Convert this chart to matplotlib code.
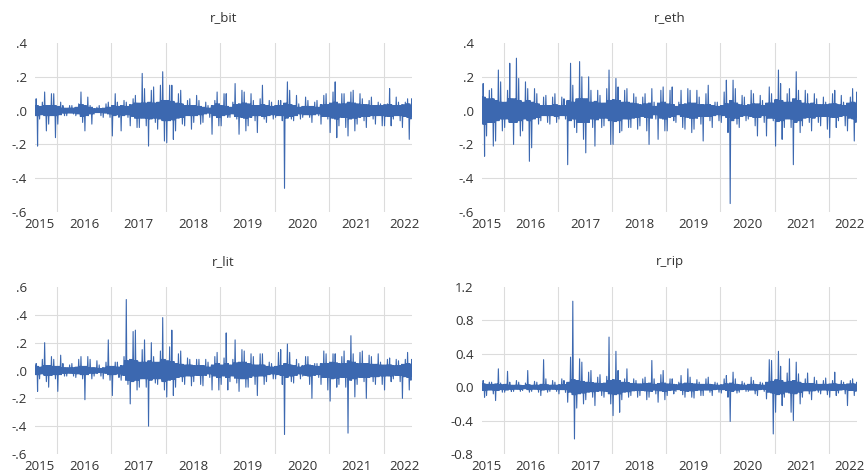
import numpy as np
import pandas as pd
import matplotlib
matplotlib.use("Agg")
import matplotlib.pyplot as plt
import matplotlib.dates as mdates
from matplotlib.ticker import FixedLocator, FuncFormatter

plt.rcParams['font.family'] = ['Open Sans', 'DejaVu Sans']

# sample: daily returns, Aug 2015 - Jul 2022
start = pd.Timestamp('2015-08-07')
end = pd.Timestamp('2022-07-10')
months = pd.period_range('2015-08', '2022-07', freq='M')

# monthly extremes (Aug15-Dec15, then 2016..2021, then Jan22-Jul22)
bit_hi = [.07, .05, .11, .10, .10,
          .05, .03, .03, .03, .04, .11, .08, .03, .02, .03, .04, .05,
          .10, .05, .06, .05, .07, .09, .22, .13, .12, .14, .15, .23,
          .15, .15, .10, .12, .06, .07, .09, .06, .05, .03, .06, .11,
          .10, .10, .05, .16, .12, .11, .10, .06, .07, .15, .06, .05,
          .06, .06, .17, .12, .09, .04, .08, .06, .05, .06, .09, .10,
          .11, .17, .10, .10, .11, .12, .10, .07, .06, .08, .05, .04,
          .04, .13, .08, .05, .05, .07, .07]
bit_lo = [-.21, -.05, -.12, -.08, -.16,
          -.08, -.03, -.03, -.02, -.03, -.07, -.12, -.08, -.02, -.03, -.04, -.04,
          -.15, -.04, -.12, -.04, -.09, -.10, -.10, -.09, -.21, -.07, -.11, -.18,
          -.19, -.17, -.12, -.08, -.09, -.11, -.07, -.08, -.07, -.04, -.14, -.09,
          -.09, -.04, -.04, -.05, -.14, -.12, -.09, -.06, -.13, -.05, -.07, -.05,
          -.04, -.06, -.46, -.05, -.06, -.05, -.04, -.04, -.07, -.03, -.08, -.05,
          -.13, -.16, -.09, -.10, -.15, -.12, -.08, -.06, -.10, -.05, -.08, -.09,
          -.09, -.09, -.05, -.06, -.10, -.17, -.05]

eth_hi = [.16, .12, .13, .24, .17,
          .12, .28, .31, .19, .17, .13, .13, .10, .08, .09, .08, .10,
          .08, .07, .28, .15, .29, .20, .20, .12, .12, .09, .13, .24,
          .19, .14, .12, .13, .10, .08, .08, .10, .13, .05, .12, .14,
          .12, .14, .05, .12, .13, .12, .12, .08, .10, .15, .05, .05,
          .11, .18, .18, .13, .09, .08, .12, .10, .09, .06, .14, .10,
          .24, .16, .10, .13, .23, .12, .12, .10, .10, .07, .08, .05,
          .10, .12, .09, .05, .08, .13, .11]
eth_lo = [-.27, -.15, -.21, -.18, -.12,
          -.10, -.07, -.20, -.15, -.12, -.30, -.22, -.08, -.06, -.07, -.08, -.07,
          -.05, -.05, -.32, -.10, -.13, -.17, -.25, -.10, -.21, -.10, -.09, -.20,
          -.20, -.13, -.12, -.10, -.10, -.11, -.09, -.12, -.20, -.05, -.17, -.12,
          -.12, -.06, -.07, -.10, -.11, -.13, -.11, -.08, -.18, -.06, -.10, -.06,
          -.07, -.13, -.55, -.08, -.10, -.06, -.05, -.09, -.15, -.07, -.15, -.06,
          -.21, -.17, -.10, -.10, -.32, -.13, -.09, -.07, -.12, -.07, -.09, -.11,
          -.16, -.10, -.06, -.09, -.12, -.18, -.07]

lit_hi = [.05, .08, .20, .10, .08,
          .11, .05, .04, .05, .08, .10, .10, .08, .07, .04, .06, .22,
          .06, .06, .10, .51, .28, .29, .15, .22, .20, .10, .14, .38,
          .17, .29, .12, .14, .09, .08, .08, .08, .08, .06, .10, .13,
          .09, .27, .08, .22, .15, .14, .12, .10, .12, .12, .06, .05,
          .13, .15, .19, .13, .08, .05, .10, .10, .05, .05, .14, .12,
          .12, .12, .10, .14, .25, .12, .13, .14, .11, .10, .12, .06,
          .08, .09, .08, .07, .08, .13, .08]
lit_lo = [-.15, -.06, -.08, -.12, -.06,
          -.15, -.04, -.04, -.04, -.05, -.06, -.21, -.06, -.04, -.04, -.06, -.07,
          -.18, -.05, -.07, -.10, -.24, -.14, -.12, -.12, -.40, -.09, -.10, -.14,
          -.19, -.18, -.12, -.08, -.10, -.11, -.08, -.10, -.11, -.05, -.14, -.14,
          -.10, -.14, -.08, -.09, -.15, -.12, -.12, -.10, -.18, -.10, -.08, -.06,
          -.06, -.10, -.46, -.08, -.09, -.06, -.04, -.10, -.20, -.05, -.10, -.14,
          -.22, -.12, -.10, -.12, -.45, -.19, -.10, -.08, -.20, -.08, -.10, -.10,
          -.14, -.08, -.06, -.08, -.20, -.14, -.07]

rip_hi = [.08, .06, .06, .22, .05,
          .19, .06, .08, .06, .05, .20, .07, .06, .33, .10, .08, .06,
          .10, .08, .36, 1.03, .34, .30, .18, .20, .12, .15, .13, .60,
          .43, .20, .10, .22, .10, .08, .10, .12, .32, .10, .15, .20,
          .10, .10, .06, .14, .22, .12, .09, .06, .10, .12, .06, .05,
          .10, .14, .18, .10, .07, .05, .12, .08, .06, .05, .33, .32,
          .43, .25, .17, .34, .30, .16, .10, .17, .12, .08, .08, .11,
          .08, .18, .08, .06, .08, .10, .06]
rip_lo = [-.12, -.10, -.08, -.16, -.06,
          -.06, -.05, -.05, -.05, -.04, -.06, -.05, -.06, -.10, -.06, -.05, -.05,
          -.08, -.06, -.18, -.62, -.25, -.20, -.15, -.12, -.22, -.10, -.12, -.20,
          -.34, -.30, -.15, -.12, -.10, -.12, -.10, -.15, -.12, -.08, -.18, -.15,
          -.10, -.08, -.05, -.09, -.12, -.12, -.13, -.10, -.10, -.06, -.10, -.06,
          -.07, -.12, -.41, -.07, -.06, -.05, -.05, -.08, -.10, -.05, -.14, -.56,
          -.30, -.22, -.12, -.30, -.40, -.20, -.12, -.08, -.15, -.06, -.08, -.09,
          -.12, -.10, -.07, -.08, -.22, -.10, -.05]

# half-width of the dense band in each month
bit_core = [.03, .025, .03, .03, .03,
            .025, .015, .015, .015, .02, .035, .03, .02, .012, .012, .015, .02,
            .03, .025, .03, .025, .035, .045, .045, .045, .05, .045, .05, .06,
            .06, .055, .045, .04, .03, .03, .03, .025, .02, .015, .03, .04,
            .03, .025, .02, .035, .04, .045, .04, .03, .03, .035, .03, .025,
            .03, .03, .045, .035, .03, .02, .025, .025, .025, .02, .035, .035,
            .045, .05, .04, .04, .05, .045, .04, .035, .035, .03, .03, .03,
            .035, .035, .03, .03, .035, .04, .03]
eth_core = [.08, .07, .07, .06, .05,
            .05, .07, .07, .06, .05, .06, .05, .04, .03, .03, .03, .035,
            .03, .03, .06, .05, .07, .07, .07, .05, .055, .045, .045, .06,
            .065, .06, .05, .05, .045, .04, .035, .04, .045, .025, .045, .05,
            .04, .035, .025, .035, .04, .045, .045, .035, .035, .035, .03, .025,
            .03, .04, .06, .045, .035, .03, .035, .04, .04, .03, .045, .045,
            .065, .06, .05, .05, .07, .06, .045, .04, .045, .035, .035, .035,
            .04, .04, .035, .03, .045, .05, .04]
lit_core = [.03, .025, .035, .035, .03,
            .03, .02, .02, .02, .025, .03, .03, .02, .02, .015, .02, .03,
            .03, .025, .035, .07, .08, .07, .06, .06, .07, .06, .06, .08,
            .07, .065, .05, .045, .04, .04, .035, .035, .035, .025, .04, .05,
            .04, .05, .04, .055, .06, .06, .05, .04, .04, .04, .03, .025,
            .03, .035, .05, .04, .035, .025, .035, .04, .035, .03, .05, .05,
            .06, .055, .05, .05, .07, .06, .05, .05, .05, .045, .045, .04,
            .04, .04, .035, .035, .045, .05, .04]
rip_core = [.04, .035, .035, .04, .03,
            .035, .025, .025, .025, .02, .03, .025, .025, .035, .03, .025, .025,
            .03, .03, .06, .09, .08, .07, .06, .055, .05, .045, .05, .08,
            .09, .08, .06, .055, .045, .04, .04, .045, .05, .035, .045, .05,
            .04, .035, .03, .04, .05, .045, .04, .035, .035, .035, .03, .025,
            .03, .04, .05, .035, .03, .025, .035, .035, .03, .025, .06, .07,
            .09, .08, .06, .07, .08, .06, .045, .045, .045, .035, .035, .035,
            .04, .04, .035, .03, .04, .04, .035]


def build_path(hi, lo, core):
    t, v = [], []
    for i, p in enumerate(months):
        a = mdates.date2num(max(p.start_time, start))
        b = mdates.date2num(min(p.end_time, end))
        c = core[i]
        if i % 2 == 0:
            vals = [c, -c, hi[i], -c, c, lo[i], c, -c]
        else:
            vals = [c, lo[i], c, -c, c, -c, hi[i], -c]
        n = len(vals)
        for k, val in enumerate(vals):
            t.append(a + (k + 0.5) / n * (b - a))
            v.append(val)
    return np.array(t), np.array(v)


def dot_fmt(x, pos):
    s = f"{x:.1f}"
    return s.replace("0.", ".")


panels = [
    ("r_bit", bit_hi, bit_lo, bit_core, (-0.6, 0.4), np.arange(-0.6, 0.41, 0.2), dot_fmt,
     [35/865, 1-212/475, 377/865, 169/475]),
    ("r_eth", eth_hi, eth_lo, eth_core, (-0.6, 0.4), np.arange(-0.6, 0.41, 0.2), dot_fmt,
     [482/865, 1-212/475, 375/865, 169/475]),
    ("r_lit", lit_hi, lit_lo, lit_core, (-0.6, 0.6), np.arange(-0.6, 0.61, 0.2), dot_fmt,
     [35/865, 1-454/475, 377/865, 167/475]),
    ("r_rip", rip_hi, rip_lo, rip_core, (-0.8, 1.2), np.arange(-0.8, 1.21, 0.4),
     lambda x, pos: f"{x:.1f}", [482/865, 1-454/475, 375/865, 167/475]),
]

year_lines = [pd.Timestamp(f"{y}-01-01") for y in range(2016, 2023)]
label_pos = [pd.Timestamp('2015-09-05')] + [pd.Timestamp(f"{y}-07-02") for y in range(2016, 2022)] \
    + [pd.Timestamp('2022-05-22')]
year_labels = [str(y) for y in range(2015, 2023)]

fig = plt.figure(figsize=(8.65, 4.75), dpi=100)
for title, hi, lo, core, ylim, yticks, fmt, rect in panels:
    ax = fig.add_axes(rect)
    t, v = build_path(hi, lo, core)
    ax.plot(t, v, color='#3c68b0', lw=0.8)
    ax.set_xlim(mdates.date2num(start), mdates.date2num(end))
    ax.set_ylim(*ylim)
    ax.set_yticks(yticks)
    ax.yaxis.set_major_formatter(FuncFormatter(fmt))
    ax.xaxis.set_major_locator(FixedLocator(mdates.date2num(year_lines)))
    ax.xaxis.set_minor_locator(FixedLocator(mdates.date2num(label_pos)))
    ax.xaxis.set_major_formatter(FuncFormatter(lambda x, pos: ""))
    ax.set_xticklabels(year_labels, minor=True)
    ax.tick_params(which='both', length=0, labelsize=9.5, colors='#333333')
    ax.tick_params(axis='x', which='minor', pad=4)
    ax.tick_params(axis='y', pad=6)
    ax.grid(True, which='major', color='#dcdcdc', lw=0.8)
    ax.set_axisbelow(True)
    gl = ax.yaxis.get_gridlines()
    gl[0].set_visible(False)
    gl[-1].set_visible(False)
    for s in ax.spines.values():
        s.set_visible(False)
    ax.set_title(title, fontsize=9.5, color='#333333', pad=15.5)

fig.savefig('out.png', dpi=100)
